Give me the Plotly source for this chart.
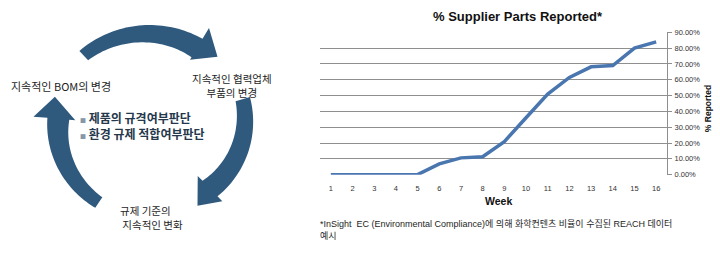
import math
import plotly.graph_objects as go

# ---------------- data ----------------
weeks = [str(i) for i in range(1, 17)]
pct_reported = [0.0, 0.0, 0.0, 0.0, 0.0, 0.068, 0.106, 0.113, 0.209, 0.36,
                0.51, 0.615, 0.682, 0.69, 0.80, 0.84]
y_ticks = [0.0, 0.1, 0.2, 0.3, 0.4, 0.5, 0.6, 0.7, 0.8, 0.9]
chart_title = "% Supplier Parts Reported*"
x_title = "Week"
y_title = "% Reported"
footnote_lines = ["*InSight  EC (Environmental Compliance)에 의해 화학컨텐츠 비율이 수집된 REACH 데이터",
                  "예시"]
cycle_labels = ["지속적인 BOM의 변경", "지속적인 협력업체<br>부품의 변경", "규제 기준의<br> 지속적인 변화"]
bullets = ["제품의 규격여부판단", "환경 규제 적합여부판단"]

W, H = 720, 254
KFONT = "Noto Sans CJK KR"
LFONT = "Liberation Sans, Arial, Noto Sans CJK KR"


def px(x, y):
    return x / W, 1 - y / H


def arrow_path(cx, cy, a_tail, a_base, a_tip, r_tail, r_base, t0, t1,
               h_out, h_in, r_tip, n=40):
    outer, inner = [], []
    for i in range(n + 1):
        f = i / n
        a = math.radians(a_tail + (a_base - a_tail) * f)
        rm = r_tail + (r_base - r_tail) * f
        t = t0 + (t1 - t0) * f
        outer.append((cx + (rm + t / 2) * math.cos(a), cy - (rm + t / 2) * math.sin(a)))
        inner.append((cx + (rm - t / 2) * math.cos(a), cy - (rm - t / 2) * math.sin(a)))
    ab = math.radians(a_base)
    at = math.radians(a_tip)
    head = [(cx + h_out * math.cos(ab), cy - h_out * math.sin(ab)),
            (cx + r_tip * math.cos(at), cy - r_tip * math.sin(at)),
            (cx + h_in * math.cos(ab), cy - h_in * math.sin(ab))]
    pts = outer + head + inner[::-1]
    s = ""
    for k, (x, y) in enumerate(pts):
        X, Y = px(x, y)
        s += ("M" if k == 0 else "L") + f"{X:.5f},{Y:.5f} "
    return s + "Z"


fig = go.Figure()
fig.add_trace(go.Scatter(x=weeks, y=pct_reported, mode="lines",
                         line=dict(color="#4a76b0", width=3.5),
                         hoverinfo="skip", showlegend=False))

shapes = []
cx, cy = 150, 127
arrows = [
    (132, 60, 47, 99, 94, 13, 22, 118, 80, 99),
    (17, -47, -60, 97, 88, 15, 22, 106, 70, 95),
    (237, 175, 162, 94, 92, 13, 22, 117, 75, 100),
]
for a in arrows:
    shapes.append(dict(type="path", xref="paper", yref="paper",
                       path=arrow_path(cx, cy, *a),
                       fillcolor="#2f5a7e", line=dict(width=0), layer="above"))

annotations = []


def text(s, x, y, size, xanchor="left", color="#1e1e1e", font=KFONT, bold=False, angle=0, align="left"):
    X, Y = px(x, y)
    annotations.append(dict(text=(f"<b>{s}</b>" if bold else s), x=X, y=Y,
                            xref="paper", yref="paper", xanchor=xanchor, yanchor="middle",
                            showarrow=False, textangle=angle, align=align,
                            font=dict(family=font, size=size, color=color)))


text(cycle_labels[0], 9, 85, 11)
text(cycle_labels[1], 232, 84.5, 10.5, xanchor="center", align="center")
text(cycle_labels[2], 118, 221, 10.5)

for i, b in enumerate(bullets):
    yy = 117.5 + 17 * i
    text(f"<span style='font-size:6px;color:#8796a8'>■</span> <b>{b}</b>", 78, yy, 12, color="#26384c")

text(chart_title, 518, 13, 13, xanchor="center", color="#111111", font=LFONT, bold=True)
text(x_title, 498, 204, 10.5, xanchor="center", color="#111111", font=LFONT, bold=True)
text(y_title, 708, 109, 8.5, xanchor="center", color="#111111", font=LFONT, bold=True, angle=-90)
text("<br>".join(footnote_lines), 318, 234, 9, color="#1e1e1e", font=LFONT)

fig.update_layout(
    width=W, height=H,
    margin=dict(l=0, r=0, t=0, b=0),
    paper_bgcolor="white", plot_bgcolor="white",
    shapes=shapes, annotations=annotations,
    xaxis=dict(domain=[320 / W, 667 / W], type="category", range=[-0.5, 15.5],
               showgrid=False, showline=False, zeroline=False, ticks="",
               tickfont=dict(family=LFONT, size=7.5, color="#333333"),
               ticklabelstandoff=8, fixedrange=True),
    yaxis=dict(domain=[(H - 177) / H, (H - 29.3) / H], side="right",
               range=[-0.0006, 0.9006], tickvals=y_ticks, tickformat=".2%",
               showgrid=True, gridcolor="#8f8f8f", gridwidth=1,
               showline=True, linecolor="#8f8f8f", linewidth=1,
               ticks="outside", ticklen=4, tickcolor="#8f8f8f",
               zeroline=False,
               tickfont=dict(family=LFONT, size=7.5, color="#333333"),
               ticklabelstandoff=1, fixedrange=True),
)

fig.write_html("out.html")
